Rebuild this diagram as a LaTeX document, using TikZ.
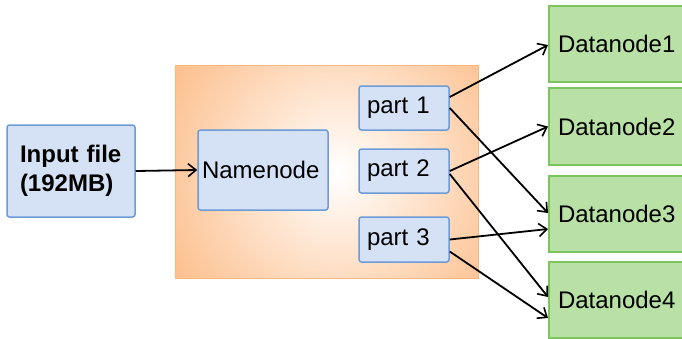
\documentclass[tikz,border=0pt]{standalone}
\usepackage{fontspec}
\setmainfont{Liberation Sans}
\usetikzlibrary{arrows.meta}
\definecolor{bluefill}{HTML}{D5E1F4}
\definecolor{blueline}{HTML}{6C9BD8}
\definecolor{greenfill}{HTML}{B9E1A6}
\definecolor{greenline}{HTML}{7CC45E}
\definecolor{orangeout}{HTML}{FCAE6E}
\definecolor{orangeline}{HTML}{F9B680}
\tikzset{
  bluebox/.style={draw=blueline, fill=bluefill, line width=1.5pt, rounded corners=2.5pt,
    inner xsep=8pt, inner ysep=0pt, align=left, font=\fontsize{24}{29}\selectfont},
  greenbox/.style={draw=greenline, fill=greenfill, line width=2pt,
    inner xsep=9pt, inner ysep=0pt, minimum width=135pt, minimum height=76pt,
    text width=117pt, align=left, font=\fontsize{24}{29}\selectfont},
  link/.style={draw=black, line width=1.8pt, -{Straight Barb[length=8pt,width=13pt,line width=1.6pt]}}
}
\begin{document}
\begin{tikzpicture}[x=1pt,y=-1pt]
\useasboundingbox (0,0) rectangle (682,338);
\fill[white] (0,0) rectangle (682,338);
% orange container
\begin{scope}
  \clip (175,65) rectangle (478,278);
  \fill[orangeout] (175,65) rectangle (478,278);
  \shade[inner color=white, outer color=orangeout] (337,172) circle (245);
\end{scope}
\draw[orangeline, line width=1pt] (175,65) rectangle (478,278);

\node[bluebox, minimum width=128pt, minimum height=92pt, text width=102pt, inner xsep=13pt, font=\fontsize{24}{29}\selectfont\bfseries] (in) at (71,171) {Input file\\(192MB)};
\node[bluebox, minimum width=130pt, minimum height=80pt, text width=122pt, inner xsep=4pt] (nn) at (263,170) {Namenode};
\node[bluebox, minimum width=90pt, minimum height=44pt, text width=74pt] (p1) at (404,108) {part 1};
\node[bluebox, minimum width=90pt, minimum height=44pt, text width=74pt] (p2) at (404,171) {part 2};
\node[bluebox, minimum width=90pt, minimum height=45pt, text width=74pt] (p3) at (404,239.5) {part 3};

\node[greenbox] (d1) at (616.5,44) {Datanode1};
\node[greenbox, minimum height=77pt] (d2) at (616.5,126.5) {Datanode2};
\node[greenbox] (d3) at (616.5,214) {Datanode3};
\node[greenbox] (d4) at (616.5,300) {Datanode4};

\draw[link] (in.east) -- (nn.west);
\draw[link] ([yshift=11pt]p1.east) -- ([yshift=-1pt]d1.west);
\draw[link] (p1.east) -- ([yshift=1pt]d3.west);
\draw[link] (p2.east) -- (d2.west);
\draw[link] ([yshift=-3pt]p2.east) -- ([yshift=3pt]d4.west);
\draw[link] (p3.east) -- ([yshift=-15pt]d3.west);
\draw[link] ([yshift=-12pt]p3.east) -- ([yshift=-18pt]d4.west);
\end{tikzpicture}
\end{document}
